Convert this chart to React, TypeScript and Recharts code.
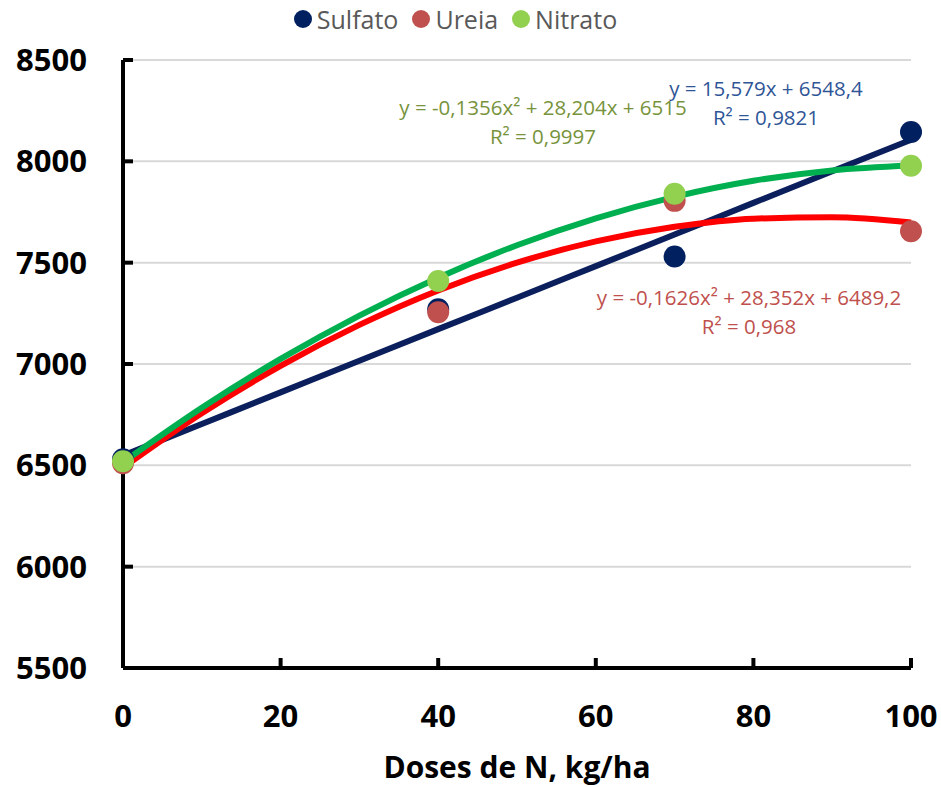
import {
  CartesianGrid,
  ComposedChart,
  Legend,
  Line,
  ResponsiveContainer,
  Scatter,
  XAxis,
  YAxis,
} from "recharts";

// doses de N (kg/ha) medidas
const doses = [0, 40, 70, 100];
const sulfato = [6530, 7270, 7530, 8145];
const ureia = [6510, 7255, 7805, 7655];
const nitrato = [6520, 7410, 7840, 7978];

// linhas de tendencia
const trendX = [0, 10, 20, 30, 40, 50, 60, 70, 80, 90, 100];
const trendSulfato = [6548, 6704, 6860, 7016, 7172, 7327, 7483, 7639, 7795, 7951, 8106];
const trendUreia = [6489, 6757, 6991, 7193, 7363, 7500, 7605, 7677, 7717, 7724, 7698];
const trendNitrato = [6515, 6784, 7025, 7239, 7426, 7586, 7719, 7825, 7904, 7955, 7979];

const xTicks = [0, 20, 40, 60, 80, 100];
const yTicks = [5500, 6000, 6500, 7000, 7500, 8000, 8500];

const legendItems = [
  { name: "Sulfato", color: "#002060" },
  { name: "Ureia", color: "#C0504D" },
  { name: "Nitrato", color: "#92D050" },
];

const pts = (ys: number[]) => doses.map((x, i) => ({ x, y: ys[i] }));

const trendData = trendX.map((x, i) => ({
  x,
  sulfato: trendSulfato[i],
  ureia: trendUreia[i],
  nitrato: trendNitrato[i],
}));

const FONT = "'Open Sans', sans-serif";

const dot = (fill: string) => (p: any) =>
  <circle cx={p.cx} cy={p.cy} r={11} fill={fill} />;

const eq = (left: number, top: number, color: string): React.CSSProperties => ({
  position: "absolute",
  left,
  top,
  width: 400,
  marginLeft: -200,
  textAlign: "center",
  color,
  fontFamily: FONT,
  fontSize: 20.5,
  lineHeight: "29px",
  whiteSpace: "nowrap",
});

const LegendBox = () => (
  <div style={{ display: "flex", justifyContent: "center", gap: 14, fontFamily: FONT, fontSize: 25, color: "#595959" }}>
    {legendItems.map((it) => (
      <span key={it.name} style={{ display: "flex", alignItems: "center", gap: 5 }}>
        <span style={{ width: 18, height: 18, borderRadius: 9, background: it.color, display: "inline-block" }} />
        {it.name}
      </span>
    ))}
  </div>
);

export default function App() {
  return (
    <div style={{ position: "absolute", left: 0, top: 0, width: 941, height: 787, background: "#fff" }}>
      <ResponsiveContainer width="100%" height="100%">
        <ComposedChart margin={{ top: 10, right: 30, left: 0, bottom: 0 }} data={trendData}>
          <CartesianGrid stroke="#D9D9D9" strokeWidth={2} vertical={false} />

          <XAxis
            dataKey="x"
            type="number"
            domain={[0, 100]}
            ticks={xTicks}
            height={119}
            stroke="#000"
            axisLine={{ strokeWidth: 4 }}
            tickLine={{ strokeWidth: 4 }}
            tickSize={-10}
            tickMargin={47}
            tick={{ fill: "#000", fontSize: 31, fontWeight: 700, fontFamily: FONT }}
            label={{
              value: "Doses de N, kg/ha",
              position: "insideBottom",
              offset: 9,
              fill: "#000",
              fontSize: 30,
              fontWeight: 700,
              fontFamily: FONT,
            }}
          />

          <YAxis
            type="number"
            domain={[5500, 8500]}
            ticks={yTicks}
            width={123}
            stroke="#000"
            axisLine={{ strokeWidth: 4 }}
            tickLine={{ strokeWidth: 4 }}
            tickSize={-10}
            tickMargin={46}
            tick={{ fill: "#000", fontSize: 31, fontWeight: 700, fontFamily: FONT }}
          />

          <Legend verticalAlign="top" height={50} wrapperStyle={{ top: 2 }} content={() => <LegendBox />} />

          {/* TENDENCIAS */}
          <Line dataKey="sulfato" type="monotone" stroke="#0A1F5C" strokeWidth={6} dot={false} legendType="none" isAnimationActive={false} />
          <Line dataKey="ureia" type="monotone" stroke="#FF0000" strokeWidth={6} dot={false} legendType="none" isAnimationActive={false} />
          <Line dataKey="nitrato" type="monotone" stroke="#00B050" strokeWidth={6} dot={false} legendType="none" isAnimationActive={false} />

          {/* PONTOS */}
          <Scatter name="Sulfato" data={pts(sulfato)} dataKey="y" fill="#002060" shape={dot("#002060")} isAnimationActive={false} />
          <Scatter name="Ureia" data={pts(ureia)} dataKey="y" fill="#C0504D" shape={dot("#C0504D")} isAnimationActive={false} />
          <Scatter name="Nitrato" data={pts(nitrato)} dataKey="y" fill="#92D050" shape={dot("#92D050")} isAnimationActive={false} />
        </ComposedChart>
      </ResponsiveContainer>

      <div style={eq(543, 93, "#77933C")}>
        y = -0,1356x² + 28,204x + 6515<br />R² = 0,9997
      </div>
      <div style={eq(766, 74, "#2F5597")}>
        y = 15,579x + 6548,4<br />R² = 0,9821
      </div>
      <div style={eq(749, 283, "#C0504D")}>
        y = -0,1626x² + 28,352x + 6489,2<br />R² = 0,968
      </div>
    </div>
  );
}
